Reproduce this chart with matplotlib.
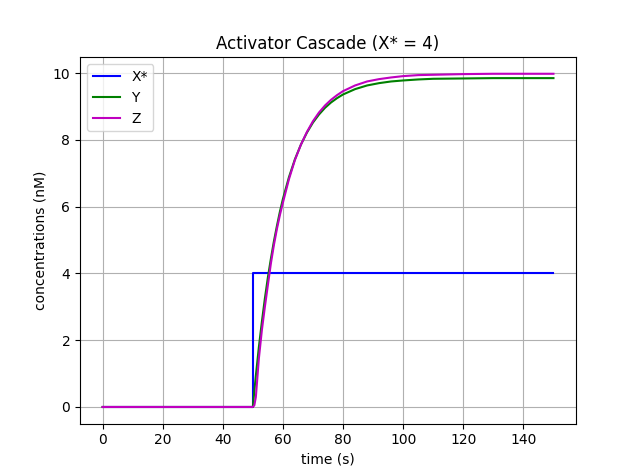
import matplotlib
matplotlib.use("Agg")
import matplotlib.pyplot as plt

# X* step input
t_x = [0, 50, 50, 150]
x_star = [0, 0, 4, 4]

# Y and Z
t = [0, 50, 50.5, 51, 52, 53, 54, 55, 56, 57, 58, 59, 60, 62, 64, 66, 68, 70,
     72, 74, 76, 78, 80, 84, 88, 92, 96, 100, 105, 110, 120, 130, 140, 150]
y_vals = [0, 0, 0.48, 0.94, 1.79, 2.55, 3.25, 3.88, 4.44, 4.96, 5.42, 5.85, 6.23,
          6.88, 7.42, 7.86, 8.22, 8.52, 8.76, 8.96, 9.12, 9.25, 9.36, 9.52, 9.63,
          9.70, 9.75, 9.78, 9.81, 9.83, 9.84, 9.85, 9.85, 9.85]
z_vals = [0, 0, 0.05, 0.3, 1.45, 2.3, 3.0, 3.65, 4.3, 4.85, 5.33, 5.75, 6.12,
          6.82, 7.40, 7.86, 8.24, 8.56, 8.82, 9.03, 9.20, 9.34, 9.46, 9.63, 9.75,
          9.82, 9.87, 9.91, 9.94, 9.95, 9.97, 9.98, 9.98, 9.98]

fig, ax = plt.subplots(figsize=(6.4, 4.76), dpi=100)
ax.plot(t_x, x_star, color='b', label='X*')
ax.plot(t, y_vals, color='g', label='Y')
ax.plot(t, z_vals, color='m', label='Z')
ax.set_title('Activator Cascade (X* = 4)')
ax.set_xlabel('time (s)')
ax.set_ylabel('concentrations (nM)')
ax.grid(True)
ax.legend(loc='upper left')
fig.savefig('out.png', dpi=100)
